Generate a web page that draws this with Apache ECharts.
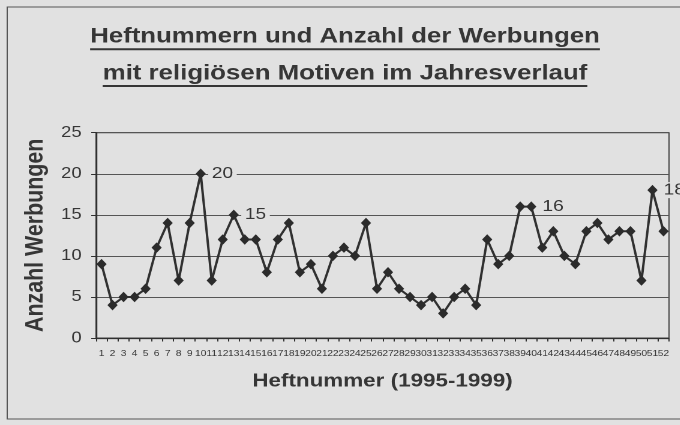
<!DOCTYPE html>
<html>
<head>
<meta charset="utf-8">
<script src="https://cdn.jsdelivr.net/npm/echarts@6/dist/echarts.min.js"></script>
<style>
  html, body { margin: 0; padding: 0; background: #e1e1e1; overflow: hidden; }
  #wrap { width: 680px; height: 425px; overflow: hidden; }
  #chart { width: 567px; height: 425px; transform: scaleX(1.2); transform-origin: 0 0; }
</style>
</head>
<body>
<div id="wrap"><div id="chart"></div></div>
<script>
// ---- data ----
const titleLines = ['Heftnummern und Anzahl der Werbungen', 'mit religiösen Motiven im Jahresverlauf'];
const xAxisTitle = 'Heftnummer (1995-1999)';
const yAxisTitle = 'Anzahl Werbungen';
const issues = ['1','2','3','4','5','6','7','8','9','10','11','12','13','14','15','16','17','18','19','20',
  '21','22','23','24','25','26','27','28','29','30','31','32','33','34','35','36','37','38','39','40',
  '41','42','43','44','45','46','47','48','49','50','51','52'];
const adCounts = [9,4,5,5,6,11,14,7,14,20, 7,12,15,12,12,8,12,14,8,9,
  6,10,11,10,14,6,8,6,5,4, 5,3,5,6,4,12,9,10,16,16,
  11,13,10,9,13,14,12,13,13,7, 18,13];
const labeledIssues = ['10','13','40','51'];
const yTicks = [0, 5, 10, 15, 20, 25];

// ---- styling ----
const ink = '#303030';
const paper = '#e1e1e1';
const titleFont = 'bold 21.5px "Liberation Sans", Arial, sans-serif';

function textWidth(t, font) {
  const c = document.createElement('canvas').getContext('2d');
  c.font = font;
  return c.measureText(t).width;
}

const seriesData = adCounts.map((v, i) => {
  if (labeledIssues.indexOf(issues[i]) >= 0) {
    return { value: v, label: { show: true } };
  }
  return v;
});

const titleCx = 287.5;
const titleBase = [43.3, 80];
const graphics = [];
titleLines.forEach((t, i) => {
  const w = textWidth(t, titleFont);
  graphics.push({
    type: 'text', x: titleCx, y: titleBase[i] - 6.5,
    style: { text: t, font: titleFont, fill: '#363636', textAlign: 'center', textVerticalAlign: 'middle', verticalAlign: 'middle' },
    z: 10
  });
  graphics.push({
    type: 'line', shape: { x1: titleCx - w / 2, y1: titleBase[i] + 6, x2: titleCx + w / 2, y2: titleBase[i] + 6 },
    style: { stroke: '#363636', lineWidth: 2 }, z: 10
  });
});
graphics.push({
  type: 'rect', shape: { x: 6, y: 7, width: 700, height: 412 },
  style: { fill: 'none', stroke: '#555', lineWidth: 1 }, z: 0, silent: true
});

const chart = echarts.init(document.getElementById('chart'), null, { renderer: 'canvas', devicePixelRatio: 2 });
chart.setOption({
  backgroundColor: paper,
  animation: false,
  graphic: graphics,
  grid: { left: 80, right: 9.5, top: 132.7, bottom: 87, show: true, borderColor: '#444', borderWidth: 1, backgroundColor: 'transparent' },
  xAxis: {
    type: 'category',
    data: issues,
    boundaryGap: true,
    name: xAxisTitle,
    nameLocation: 'middle',
    nameGap: 34,
    nameTextStyle: { fontFamily: 'Liberation Sans, Arial', fontWeight: 'bold', fontSize: 18.7, color: '#363636' },
    axisLine: { lineStyle: { color: ink, width: 1.2 } },
    axisTick: { show: true, alignWithLabel: false, length: 3.5, lineStyle: { color: ink } },
    axisLabel: { interval: 0, fontSize: 8.5, fontFamily: 'Liberation Sans, Arial', color: '#363636', margin: 11 },
    splitLine: { show: false }
  },
  yAxis: {
    type: 'value',
    min: yTicks[0], max: yTicks[yTicks.length - 1], interval: 5,
    name: yAxisTitle,
    nameLocation: 'middle',
    nameRotate: 90,
    nameGap: 34,
    nameTextStyle: { fontFamily: 'Liberation Sans, Arial', fontWeight: 'bold', fontSize: 21.4, color: '#363636' },
    axisLine: { show: true, lineStyle: { color: ink, width: 1.2 } },
    axisTick: { show: true, length: 4, lineStyle: { color: ink } },
    axisLabel: { fontSize: 15.4, fontFamily: 'Liberation Sans, Arial', color: '#363636', margin: 12 },
    splitLine: { show: true, lineStyle: { color: '#555', width: 1 } }
  },
  series: [{
    type: 'line',
    data: seriesData,
    symbol: 'diamond',
    symbolSize: [8.5, 10.5],
    itemStyle: { color: '#2b2b2b' },
    lineStyle: { color: '#303030', width: 2 },
    label: {
      show: false, position: 'right', distance: 2,
      fontSize: 16, fontFamily: 'Liberation Sans, Arial', color: '#363636',
      backgroundColor: paper, padding: [0, 3, 0, 3]
    },
    z: 5
  }]
});
</script>
</body>
</html>
